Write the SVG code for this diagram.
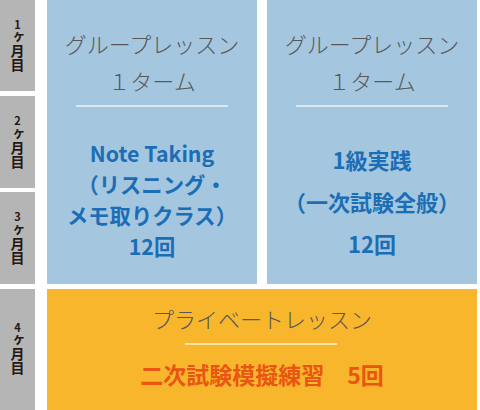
<svg xmlns="http://www.w3.org/2000/svg" width="480" height="410" viewBox="0 0 480 410">
<style>
.mbox{fill:#b5b5b5}
.blue{fill:#a4c6df}
.orange{fill:#f8b62d}
.lab{font-family:"Noto Sans CJK JP","Noto Sans",sans-serif;font-weight:700;fill:#231815;font-size:14px;writing-mode:vertical-rl;text-orientation:upright}
.d{font-size:11px}
.head{font-family:"Noto Sans CJK JP","Noto Sans",sans-serif;font-weight:300;font-size:22px;fill:#595757;text-anchor:middle}
.bt{font-family:"Noto Sans CJK JP","Noto Sans",sans-serif;font-weight:700;font-size:22px;fill:#1b6eb5;text-anchor:middle}
.bt2{font-size:21.3px}
.ot{font-family:"Noto Sans CJK JP","Noto Sans",sans-serif;font-weight:700;font-size:23px;fill:#e95513;text-anchor:middle}
.sep{stroke:#ffffff;stroke-opacity:0.8;stroke-width:1.5}
</style>
<rect width="480" height="410" fill="#ffffff"/>
<g id="month1">
<rect class="mbox" x="0" y="0" width="35" height="91"/>
<text class="lab" x="17.5" y="19"><tspan class="d">1</tspan>ヶ月目</text>
</g>
<g id="month2">
<rect class="mbox" x="0" y="96" width="35" height="92"/>
<text class="lab" x="17.5" y="115.5"><tspan class="d">2</tspan>ヶ月目</text>
</g>
<g id="month3">
<rect class="mbox" x="0" y="192" width="35" height="92"/>
<text class="lab" x="17.5" y="211.5"><tspan class="d">3</tspan>ヶ月目</text>
</g>
<g id="month4">
<rect class="mbox" x="0" y="289" width="35" height="121"/>
<text class="lab" x="17.5" y="322"><tspan class="d">4</tspan>ヶ月目</text>
</g>
<g id="group-notetaking">
<rect class="blue" x="47" y="0" width="210" height="284"/>
<text class="head" x="152" y="53">グループレッスン</text>
<text class="head" x="152" y="90">１ターム</text>
<line class="sep" x1="76" y1="106" x2="228" y2="106"/>
<text class="bt bt2" x="152" y="162">Note Taking</text>
<text class="bt bt2" x="152" y="193">（リスニング・</text>
<text class="bt bt2" x="152" y="224">メモ取りクラス）</text>
<text class="bt bt2" x="152" y="255">12回</text>
</g>
<g id="group-1kyu">
<rect class="blue" x="267" y="0" width="210" height="284"/>
<text class="head" x="372" y="53">グループレッスン</text>
<text class="head" x="372" y="90">１ターム</text>
<line class="sep" x1="296" y1="106" x2="448" y2="106"/>
<text class="bt" x="372" y="169">1級実践</text>
<text class="bt" x="372" y="211">（一次試験全般）</text>
<text class="bt" x="372" y="253">12回</text>
</g>
<g id="private">
<rect class="orange" x="47" y="289" width="430" height="121"/>
<text class="head" x="262" y="328">プライベートレッスン</text>
<line class="sep" x1="185" y1="344" x2="337" y2="344"/>
<text class="ot" x="262" y="384">二次試験模擬練習　5回</text>
</g>
<g id="connectors"/>
</svg>
